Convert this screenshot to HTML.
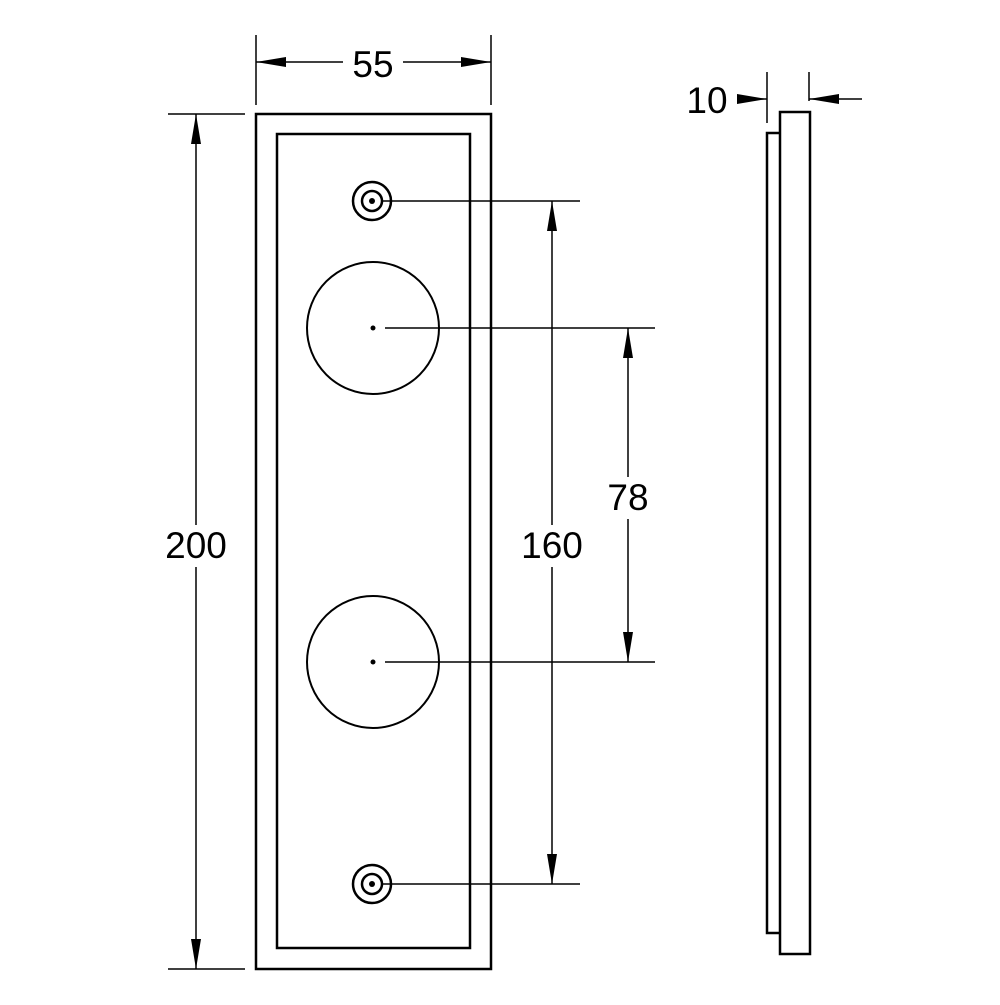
<!DOCTYPE html>
<html><head><style>html,body{margin:0;padding:0;background:#fff}</style></head><body>
<svg width="1000" height="1000" viewBox="0 0 1000 1000" xmlns="http://www.w3.org/2000/svg">
<defs>
<marker id="a" viewBox="0 0 30 10" refX="30" refY="5" markerWidth="30" markerHeight="10" markerUnits="userSpaceOnUse" orient="auto-start-reverse"><path d="M0,0L30,5L0,10z" fill="#000"/></marker>
</defs>
<g fill="none" stroke="#000" stroke-width="2">
<rect x="256" y="114" width="235" height="855" stroke-width="2.5"/>
<rect x="277" y="134" width="193" height="814" stroke-width="2.5"/>
<circle cx="373" cy="328" r="66"/>
<circle cx="373" cy="662" r="66"/>
<circle cx="372" cy="201" r="19" stroke-width="2.5"/>
<circle cx="372" cy="201" r="10" stroke-width="2.5"/>
<circle cx="372" cy="884" r="19" stroke-width="2.5"/>
<circle cx="372" cy="884" r="10" stroke-width="2.5"/>
<rect x="780" y="112" width="30" height="842" stroke-width="2.5"/>
<path d="M780,133H767V933H780" stroke-width="2.5"/>
<g stroke-width="1.5">
<path d="M256,35V105M491,35V105"/>
<path d="M256,62H343" marker-start="url(#a)"/>
<path d="M403,62H491" marker-end="url(#a)"/>
<path d="M168,114H245M168,969H245"/>
<path d="M196,114V525" marker-start="url(#a)"/>
<path d="M196,567V969" marker-end="url(#a)"/>
<path d="M382,201H580M382,884H580"/>
<path d="M552,201V525" marker-start="url(#a)"/>
<path d="M552,567V884" marker-end="url(#a)"/>
<path d="M385,328H655M385,662H655"/>
<path d="M628,328V477" marker-start="url(#a)"/>
<path d="M628,519V662" marker-end="url(#a)"/>
<path d="M767,72V123M809,72V101"/>
<path d="M737,99H767" marker-end="url(#a)"/>
<path d="M862,99H809" marker-end="url(#a)"/>
</g>
</g>
<g fill="#000">
<circle cx="372" cy="201" r="3"/><circle cx="372" cy="884" r="3"/>
<circle cx="373" cy="328" r="2.5"/><circle cx="373" cy="662" r="2.5"/>
</g>
<g font-family="Liberation Sans, sans-serif" font-size="37" text-anchor="middle" fill="#000">
<text x="373" y="77">55</text>
<text x="196" y="558">200</text>
<text x="552" y="558">160</text>
<text x="628" y="510">78</text>
<text x="707" y="113">10</text>
</g>
</svg>
</body></html>
